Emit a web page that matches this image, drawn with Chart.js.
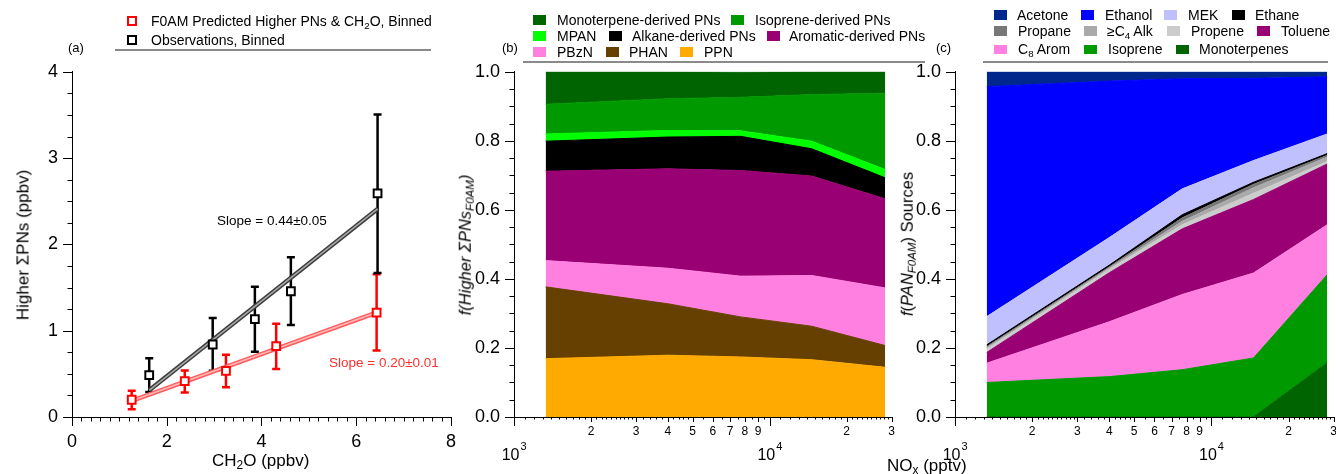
<!DOCTYPE html>
<html>
<head>
<meta charset="utf-8">
<script src="https://cdn.jsdelivr.net/npm/chart.js@4.4.1/dist/chart.umd.min.js"></script>
<style>
  body { margin: 0; background: #fff; }
  #fig { position: relative; width: 1336px; height: 474px; overflow: hidden;
         font-family: "Liberation Sans", Arial, sans-serif; color: #000; }
  #fig canvas { position: absolute; }
  .lbl { position: absolute; white-space: nowrap; line-height: 1; }
  .rot { position: absolute; white-space: nowrap; line-height: 1;
         transform: translate(-50%, -50%) rotate(-90deg); }
  .sw { position: absolute; box-sizing: border-box; }
  .rule { position: absolute; height: 0; border-top: 2px solid #8a8a8a; }
  .sub { font-size: 70%; position: relative; top: 0.3em; }
</style>
</head>
<body>
<div id="fig">
  <canvas id="chartA" width="470" height="427" style="left:0;top:47px"></canvas>
  <canvas id="chartB" width="462" height="427" style="left:440px;top:47px"></canvas>
  <canvas id="chartC" width="454" height="427" style="left:890px;top:47px"></canvas>
</div>
<script>
// ---- panel (a): binned higher PNs vs CH2O ----
const modelX    = [1.26, 2.38, 3.25, 4.31, 6.43];
const modelY    = [0.20, 0.415, 0.535, 0.82, 1.21];
const modelLow  = [0.09, 0.285, 0.345, 0.555, 0.77];
const modelHigh = [0.305, 0.54, 0.72, 1.08, 1.655];
const obsX      = [1.63, 2.97, 3.86, 4.62, 6.45];
const obsY      = [0.485, 0.84, 1.135, 1.457, 2.59];
const obsLow    = [0.29, 0.537, 0.757, 1.066, 1.67];
const obsHigh   = [0.682, 1.148, 1.51, 1.85, 3.505];

// ---- NOx bins (pptv), shared by (b) and (c) ----
const noxBins = [1330, 4000, 7700, 14600, 28300];

// ---- panel (b): fraction of higher PNs, bottom to top ----
const fPPN    = [0.169, 0.179, 0.174, 0.166, 0.144];
const fPHAN   = [0.208, 0.149, 0.116, 0.097, 0.063];
const fPBzN   = [0.076, 0.103, 0.118, 0.147, 0.167];
const fAromPN = [0.259, 0.288, 0.306, 0.288, 0.258];
const fAlkPN  = [0.087, 0.092, 0.099, 0.079, 0.061];
const fMPAN   = [0.021, 0.019, 0.016, 0.022, 0.024];
const fIsopPN = [0.086, 0.092, 0.097, 0.135, 0.221];
const fMonoPN = [0.094, 0.078, 0.073, 0.066, 0.062];

// ---- panel (c): PAN sources, bottom to top ----
const fMonoSrc = [0, 0, 0, 0, 0.157];
const fIsopSrc = [0.100, 0.117, 0.137, 0.171, 0.255];
const fC8Arom  = [0.056, 0.159, 0.218, 0.246, 0.145];
const fToluene = [0.031, 0.142, 0.190, 0.213, 0.176];
const fPropene = [0.010, 0.010, 0.012, 0.018, 0.007];
const fC4Alk   = [0.004, 0.004, 0.010, 0.016, 0.013];
const fPropane = [0.003, 0.003, 0.010, 0.010, 0.005];
const fEthane  = [0.005, 0.005, 0.009, 0.006, 0.005];
const fMEK     = [0.082, 0.080, 0.075, 0.063, 0.057];
const fEthanol = [0.666, 0.453, 0.319, 0.238, 0.1655];
const fAcetone = [0.043, 0.027, 0.020, 0.019, 0.0145];

const yTicksA = [0, 1, 2, 3, 4];
const xTicksA = [0, 2, 4, 6, 8];
const fracTicks = [0, 0.2, 0.4, 0.6, 0.8, 1.0];
const logLabelTicks = [1000, 2000, 3000, 4000, 5000, 6000, 7000, 8000, 9000, 10000, 20000, 30000];

const FONT = '"Liberation Sans", Arial, sans-serif';
Chart.defaults.font.family = FONT;
Chart.defaults.color = '#000';

// tick marks drawn outward, several lengths
function makeTicks(xt, yt) {
  return {
    id: 'outTicks',
    afterDraw(chart) {
      const { ctx, scales: { x, y } } = chart;
      ctx.save();
      ctx.strokeStyle = '#000';
      ctx.lineWidth = 1;
      ctx.beginPath();
      for (const [v, len] of xt) {
        const px = Math.round(x.getPixelForValue(v)) + 0.5;
        ctx.moveTo(px, y.bottom); ctx.lineTo(px, y.bottom + len);
      }
      for (const [v, len] of yt) {
        const py = Math.round(y.getPixelForValue(v)) + 0.5;
        ctx.moveTo(x.left, py); ctx.lineTo(x.left - len, py);
      }
      ctx.stroke();
      ctx.restore();
    }
  };
}

function linTicks(max, step, majorEvery) {
  const out = [];
  const n = Math.round(max / step);
  for (let i = 0; i <= n; i++) out.push([i * step, i % majorEvery === 0 ? 9 : 4.5]);
  return out;
}

function logTicks(lo, hi) {
  const out = [];
  for (let d = 1000; d <= hi; d *= 10) {
    for (let m = 1; m < 10 - 1e-9; m += (m < 3 - 1e-9 ? 0.1 : m < 5 - 1e-9 ? 0.2 : 0.5)) {
      const mm = Math.round(m * 10) / 10;
      const v = mm * d;
      if (v < lo - 1e-6 || v > hi + 1e-6) continue;
      let len = 2.5;
      if (Math.abs(mm - 1) < 1e-9) len = 9;
      else if (Math.abs(mm - Math.round(mm)) < 1e-9) len = 5;
      out.push([v, len]);
    }
  }
  return out;
}

function makeErrorBars(sets) {
  return {
    id: 'errorBars',
    beforeDatasetsDraw(chart) {
      const { ctx, scales: { x, y } } = chart;
      ctx.save();
      ctx.lineWidth = 2.5;
      for (const s of sets) {
        ctx.strokeStyle = s.color;
        s.x.forEach((xv, i) => {
          const px = x.getPixelForValue(xv);
          const lo = y.getPixelForValue(s.lo[i]);
          const hi = y.getPixelForValue(s.hi[i]);
          ctx.beginPath();
          ctx.moveTo(px, lo); ctx.lineTo(px, hi);
          ctx.moveTo(px - 4, lo); ctx.lineTo(px + 4, lo);
          ctx.moveTo(px - 4, hi); ctx.lineTo(px + 4, hi);
          ctx.stroke();
        });
      }
      ctx.restore();
    }
  };
}

// 10^3, 10^4 labels with superscript exponent
const logMajorLabels = {
  id: 'logMajor',
  afterDraw(chart) {
    const { ctx, scales: { x } } = chart;
    const base = x.top + 43;
    ctx.save();
    ctx.fillStyle = '#000';
    for (const [v, e] of [[1000, '3'], [10000, '4']]) {
      const px = x.getPixelForValue(v);
      ctx.font = '16px ' + FONT;
      ctx.textAlign = 'right';
      ctx.textBaseline = 'alphabetic';
      ctx.fillText('10', px + 5.5, base);
      ctx.font = '11px ' + FONT;
      ctx.textAlign = 'left';
      ctx.fillText(e, px + 6.5, base - 10);
    }
    ctx.restore();
  }
};

function lsqLine(xs, ys) {
  const n = xs.length;
  const mx = xs.reduce((a, b) => a + b, 0) / n;
  const my = ys.reduce((a, b) => a + b, 0) / n;
  let sxy = 0, sxx = 0;
  for (let i = 0; i < n; i++) { sxy += (xs[i] - mx) * (ys[i] - my); sxx += (xs[i] - mx) ** 2; }
  const b = sxy / sxx, a = my - b * mx;
  return [xs[0], xs[n - 1]].map(x => ({ x, y: a + b * x }));
}

function pts(xs, ys) { return xs.map((x, i) => ({ x, y: ys[i] })); }

function yAxis(min, max, width, ticks, fmt) {
  return {
    min, max,
    afterFit: s => { s.width = width; },
    afterBuildTicks: s => { s.ticks = ticks.map(v => ({ value: v })); },
    grid: { display: false, drawTicks: false },
    border: { display: true, color: '#000', width: 1 },
    ticks: { font: { size: 18 }, color: '#000', padding: 14, autoSkip: false, callback: fmt }
  };
}

function logXAxis() {
  return {
    type: 'logarithmic', min: 1000, max: 30000,
    afterFit: s => { s.height = 57; },
    afterBuildTicks: s => { s.ticks = logLabelTicks.map(v => ({ value: v })); },
    grid: { display: false, drawTicks: false },
    border: { display: true, color: '#000', width: 1 },
    ticks: {
      font: { size: 12 }, color: '#000', padding: 7, autoSkip: false, maxRotation: 0,
      callback: v => {
        const m = v / Math.pow(10, Math.floor(Math.log10(v) + 1e-9));
        return Math.abs(m - 1) < 1e-6 ? '' : String(Math.round(m));
      }
    }
  };
}

const baseOpts = {
  responsive: false, animation: false,
  layout: { padding: 0 },
  plugins: { legend: { display: false }, tooltip: { enabled: false } }
};

// ---------- panel (a) ----------
new Chart(document.getElementById('chartA'), {
  type: 'scatter',
  data: {
    datasets: [
      { data: pts(obsX, obsY), pointStyle: 'rect', pointRadius: 5.5, borderWidth: 2,
        borderColor: '#000', backgroundColor: '#fff', order: 0 },
      { data: pts(modelX, modelY), pointStyle: 'rect', pointRadius: 5.5, borderWidth: 2,
        borderColor: '#ff0000', backgroundColor: '#fff', order: 1 },
      { data: lsqLine(obsX, obsY), showLine: true, pointRadius: 0, borderWidth: 1.5,
        borderColor: '#a8a8a8', order: 2 },
      { data: lsqLine(obsX, obsY), showLine: true, pointRadius: 0, borderWidth: 4.5,
        borderColor: '#3c3c3c', order: 3 },
      { data: lsqLine(modelX, modelY), showLine: true, pointRadius: 0, borderWidth: 1.5,
        borderColor: '#ffb8b8', order: 4 },
      { data: lsqLine(modelX, modelY), showLine: true, pointRadius: 0, borderWidth: 4.5,
        borderColor: '#ff5c5c', order: 5 }
    ]
  },
  options: {
    ...baseOpts,
    scales: {
      x: {
        type: 'linear', min: 0, max: 8,
        afterFit: s => { s.height = 57; },
        afterBuildTicks: s => { s.ticks = xTicksA.map(v => ({ value: v })); },
        grid: { display: false, drawTicks: false },
        border: { display: true, color: '#000', width: 1 },
        ticks: { font: { size: 18 }, color: '#000', padding: 14, autoSkip: false, maxRotation: 0 }
      },
      y: yAxis(0, 4, 72, yTicksA, v => String(v))
    }
  },
  plugins: [
    makeErrorBars([
      { x: modelX, lo: modelLow, hi: modelHigh, color: '#ff0000' },
      { x: obsX, lo: obsLow, hi: obsHigh, color: '#000' }
    ]),
    makeTicks(linTicks(8, 0.2, 10), linTicks(4, 0.25, 4))
  ]
});

// ---------- stacked area helpers ----------
function stacked(layers) {
  const acc = noxBins.map(() => 0);
  return layers.map((l, k) => {
    l.vals.forEach((v, i) => { acc[i] += v; });
    return {
      data: noxBins.map((x, i) => ({ x, y: acc[i] })),
      showLine: true, pointRadius: 0, tension: 0,
      borderWidth: 1, borderColor: l.color, backgroundColor: l.color,
      fill: k === 0 ? 'origin' : '-1'
    };
  });
}

function areaChart(id, yWidth, layers) {
  new Chart(document.getElementById(id), {
    type: 'scatter',
    data: { datasets: stacked(layers) },
    options: {
      ...baseOpts,
      scales: {
        x: logXAxis(),
        y: yAxis(0, 1, yWidth, fracTicks, v => v.toFixed(1))
      }
    },
    plugins: [makeTicks(logTicks(1000, 30000), linTicks(1, 0.05, 4)), logMajorLabels]
  });
}

// ---------- panel (b) ----------
const pnLayers = [
  { name: 'PPN', color: '#ffaa00', vals: fPPN },
  { name: 'PHAN', color: '#664000', vals: fPHAN },
  { name: 'PBzN', color: '#ff80e0', vals: fPBzN },
  { name: 'Aromatic-derived PNs', color: '#990073', vals: fAromPN },
  { name: 'Alkane-derived PNs', color: '#000000', vals: fAlkPN },
  { name: 'MPAN', color: '#00ff00', vals: fMPAN },
  { name: 'Isoprene-derived PNs', color: '#009900', vals: fIsopPN },
  { name: 'Monoterpene-derived PNs', color: '#006400', vals: fMonoPN }
];
areaChart('chartB', 74, pnLayers);

// ---------- panel (c) ----------
const srcLayers = [
  { name: 'Monoterpenes', color: '#006400', vals: fMonoSrc },
  { name: 'Isoprene', color: '#009900', vals: fIsopSrc },
  { name: 'C<span class="sub">8</span> Arom', color: '#ff80e0', vals: fC8Arom },
  { name: 'Toluene', color: '#990073', vals: fToluene },
  { name: 'Propene', color: '#cccccc', vals: fPropene },
  { name: '≥C<span class="sub">4</span> Alk', color: '#aaaaaa', vals: fC4Alk },
  { name: 'Propane', color: '#777777', vals: fPropane },
  { name: 'Ethane', color: '#000000', vals: fEthane },
  { name: 'MEK', color: '#c0c0ff', vals: fMEK },
  { name: 'Ethanol', color: '#0000ff', vals: fEthanol },
  { name: 'Acetone', color: '#00288c', vals: fAcetone }
];
areaChart('chartC', 65, srcLayers);

// ---------- text, legends ----------
const fig = document.getElementById('fig');
function addText(html, x, cy, size, style) {
  const d = document.createElement('div');
  d.className = 'lbl';
  d.innerHTML = html;
  d.style.fontSize = size + 'px';
  d.style.left = x + 'px';
  d.style.top = (cy - 0.49 * size) + 'px';
  Object.assign(d.style, style || {});
  fig.appendChild(d);
}
function addRot(html, cx, cy, size, style) {
  const d = document.createElement('div');
  d.className = 'rot';
  d.innerHTML = html;
  d.style.fontSize = size + 'px';
  d.style.left = cx + 'px';
  d.style.top = cy + 'px';
  Object.assign(d.style, style || {});
  fig.appendChild(d);
}
function addBox(x, y, w, h, style) {
  const d = document.createElement('div');
  d.className = 'sw';
  Object.assign(d.style, { left: x + 'px', top: y + 'px', width: w + 'px', height: h + 'px' }, style);
  fig.appendChild(d);
}
function addRule(x, y, w) {
  const d = document.createElement('div');
  d.className = 'rule';
  Object.assign(d.style, { left: x + 'px', top: y + 'px', width: w + 'px' });
  fig.appendChild(d);
}

// (a) legend
addBox(127, 16, 10, 10, { border: '2px solid #ff0000' });
addText('F0AM Predicted Higher PNs &amp; CH<span class="sub">2</span>O, Binned', 151, 21, 14);
addBox(127, 35, 10, 10, { border: '2px solid #000' });
addText('Observations, Binned', 151, 40, 14);
addRule(115, 49, 316);
addText('(a)', 68, 47, 13);
addText('Slope = 0.44±0.05', 217, 221, 13.5);
addText('Slope = 0.20±0.01', 329, 363, 13.5, { color: '#ff3030' });
addRot('Higher ΣPNs (ppbv)', 23, 245, 17);
addText('CH<span class="sub">2</span>O (ppbv)', 212, 460, 17);

// (b) legend: [layer name, swatch x, text x, row y]
const legB = [
  ['Monoterpene-derived PNs', 533, 557, 19.5], ['Isoprene-derived PNs', 731, 755, 19.5],
  ['MPAN', 533, 557, 35.5], ['Alkane-derived PNs', 609, 632, 35.5], ['Aromatic-derived PNs', 767, 789, 35.5],
  ['PBzN', 533, 557, 51.5], ['PHAN', 606, 629, 51.5], ['PPN', 680, 704, 51.5]
];
for (const [name, sx, tx, cy] of legB) {
  const l = pnLayers.find(p => p.name === name);
  addBox(sx, cy - 4.5, 13, 9.5, { background: l.color });
  addText(name, tx, cy, 14);
}
addRule(523, 61, 402);
addText('(b)', 502, 47, 13);
addRot('f(Higher ΣPNs<span class="sub">F0AM</span>)', 465, 245, 16.5, { fontStyle: 'italic' });

// (c) legend
const legC = [
  ['Acetone', 994, 1017, 14.5], ['Ethanol', 1081, 1105, 14.5], ['MEK', 1164, 1188, 14.5], ['Ethane', 1232, 1255, 14.5],
  ['Propane', 994, 1018, 30.5], ['≥C<span class="sub">4</span> Alk', 1084, 1107, 30.5], ['Propene', 1167, 1191, 30.5], ['Toluene', 1257, 1281, 30.5],
  ['C<span class="sub">8</span> Arom', 994, 1018, 49], ['Isoprene', 1084, 1108, 49], ['Monoterpenes', 1176, 1199, 49]
];
for (const [name, sx, tx, cy] of legC) {
  const l = srcLayers.find(p => p.name === name);
  addBox(sx, cy - 4.5, 13, 9.5, { background: l.color });
  addText(name, tx, cy, 14);
}
addRule(983, 61, 345);
addText('(c)', 936, 47, 13);
addRot('<i>f</i>(<i>PAN<span class="sub">F0AM</span></i>) Sources', 907, 244, 16.5);
addText('NO<span class="sub">x</span> (pptv)', 887, 465, 17);
</script>
</body>
</html>
